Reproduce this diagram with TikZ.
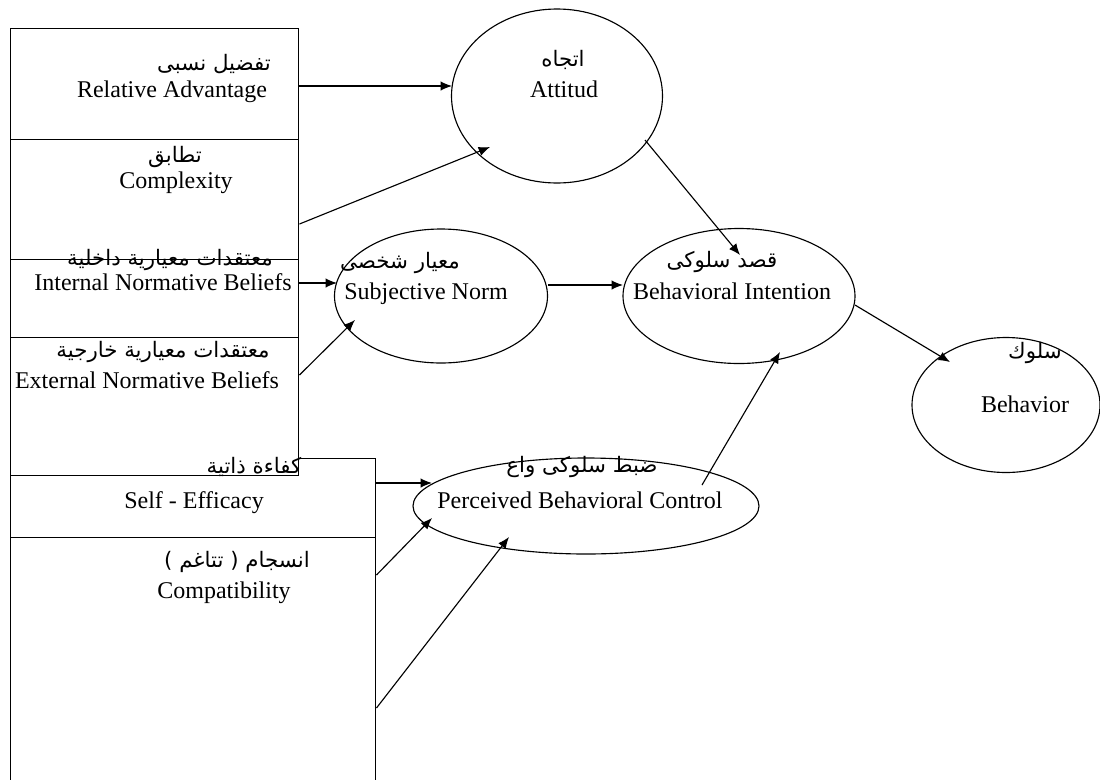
\documentclass[tikz,border=0pt]{standalone}
\usepackage{fontspec}
\setmainfont{Liberation Serif}
\newfontfamily\arabicfont[Script=Arabic]{DejaVu Sans}
\TeXXeTstate=1
\usetikzlibrary{arrows.meta,shapes.geometric,calc}
\begin{document}
\begin{tikzpicture}[x=0.75pt,y=-0.75pt,
 box/.style={draw,fill=white,line width=1.1pt,inner sep=0,anchor=north west},
 ell/.style={draw,ellipse,line width=0.85pt,inner sep=0},
 en/.style={font=\fontsize{18}{20}\selectfont,inner sep=0,anchor=base},
 ar/.style={font=\fontsize{16}{18}\selectfont\arabicfont,inner sep=0,anchor=base},
 arr/.style={-{Latex[length=8.5pt,width=7pt]},line width=0.85pt}]
\clip (0,0) rectangle (1100,779);
\fill[white] (0,0) rectangle (1100,779);
% boxes
\node[box,minimum width=273.75pt,minimum height=200pt] (cp) at (10,537) {};
\node[box,minimum width=273.75pt,minimum height=59.25pt] (se) at (10,458) {};
\node[box,minimum width=216pt,minimum height=103.5pt] (enb) at (10,337) {};
\node[box,minimum width=216pt,minimum height=58.5pt] (inb) at (10,259) {};
\node[box,minimum width=216pt,minimum height=90pt] (cx) at (10,139) {};
\node[box,minimum width=216pt,minimum height=83.25pt] (ra) at (10,28) {};
% ellipses
\node[ell,minimum width=158.25pt,minimum height=130.5pt] (att) at (557,96) {};
\node[ell,minimum width=159.75pt,minimum height=100.5pt] (sn) at (441,296) {};
\node[ell,minimum width=174pt,minimum height=101.25pt] (bi) at (739,296) {};
\node[ell,minimum width=141pt,minimum height=101.25pt] (beh) at (1006,405) {};
\node[ell,minimum width=259.5pt,minimum height=72pt] (pbc) at (586,506) {};
% english texts
\node[en] (tra) at (172,97) {Relative Advantage};
\node[en] (tcx) at (176,188) {Complexity};
\node[en] (tinb) at (163,290) {Internal Normative Beliefs};
\node[en] (tenb) at (147,388) {External Normative Beliefs};
\node[en] (tse) at (194,508) {Self - Efficacy};
\node[en] (tcp) at (224,598) {Compatibility};
\node[en] (tatt) at (564,97) {Attitud};
\node[en] (tsn) at (426,299) {Subjective Norm};
\node[en] (tbi) at (732,299) {Behavioral Intention};
\node[en] (tbeh) at (1025,412) {Behavior};
\node[en] (tpbc) at (580,508) {Perceived Behavioral Control};
% arabic texts
\node[ar] (ara) at (214,70) {\beginR تفضيل نسبى\endR};
\node[ar] (acx) at (175,162) {\beginR تطابق\endR};
\node[ar] (ainb) at (170,265) {\beginR معتقدات معيارية داخلية\endR};
\node[ar] (aenb) at (163,357) {\beginR معتقدات معيارية خارجية\endR};
\node[ar] (ase) at (254,473) {\beginR كفاءة ذاتية\endR};
\node[ar] (acp) at (237,567) {\beginR انسجام ( تتاغم )\endR};
\node[ar] (aatt) at (563,66) {\beginR اتجاه\endR};
\node[ar] (asn) at (400,268) {\beginR معيار شخصى\endR};
\node[ar] (abi) at (722,267) {\beginR قصد سلوكى\endR};
\node[ar] (abeh) at (1035,358) {\beginR سلوك\endR};
\node[ar] (apbc) at (582,472) {\beginR ضبط سلوكى واع\endR};
% arrows
\draw[arr] ($(ra.north east)+(0,58)$) -- ($(att.center)+(-105,-10)$);
\draw[arr] ($(cx.north east)+(0,85)$) -- ($(att.center)+(-67,51)$);
\draw[arr] ($(att.center)+(88,44)$) -- ($(bi.center)+(1,-41)$);
\draw[arr] ($(inb.north east)+(0,24)$) -- ($(sn.center)+(-104,-13)$);
\draw[arr] ($(enb.north east)+(0,38)$) -- ($(sn.center)+(-86,24)$);
\draw[arr] ($(sn.center)+(107,-11)$) -- ($(bi.center)+(-116,-11)$);
\draw[arr] ($(bi.center)+(116,9)$) -- ($(beh.center)+(-56,-43)$);
\draw[arr] ($(pbc.center)+(116,-21)$) -- ($(bi.center)+(41,56)$);
\draw[arr] ($(se.north east)+(0,25)$) -- ($(pbc.center)+(-154,-23)$);
\draw[arr] ($(cp.north east)+(0,38)$) -- ($(pbc.center)+(-154,12)$);
\draw[arr] ($(cp.north east)+(0,171)$) -- ($(pbc.center)+(-77,31)$);
\end{tikzpicture}
\end{document}
